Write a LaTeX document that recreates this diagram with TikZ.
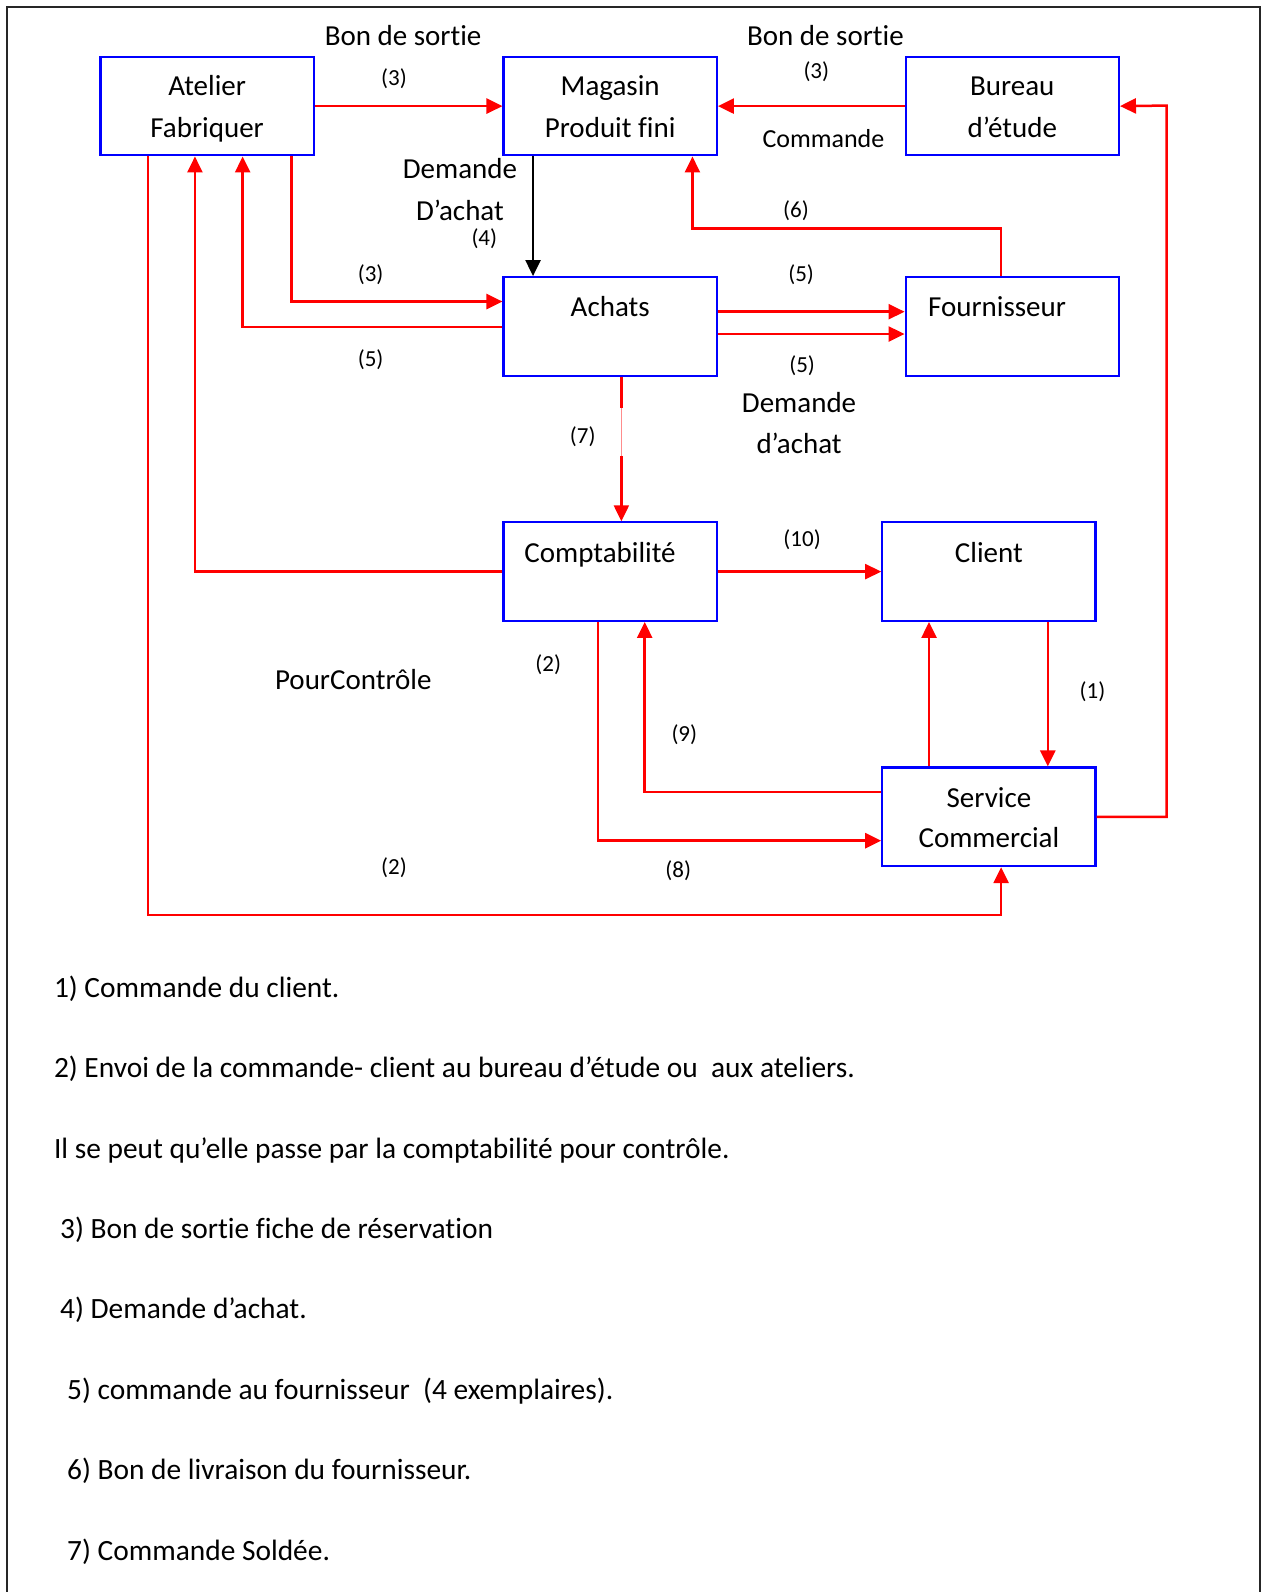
\documentclass[tikz,border=0pt]{standalone}
\usepackage{fontspec}
\setmainfont{Carlito}[Ligatures={NoCommon}]
\usetikzlibrary{arrows.meta}
\begin{document}
\begin{tikzpicture}[x=1.0152pt,y=-1.0152pt,
  box/.style={draw=blue,line width=2.2pt,minimum width=213.2pt,minimum height=98.5pt,inner sep=0pt},
  arr/.style={draw=red,line width=2.5pt,-{Triangle[length=16pt,width=15pt]}},
  blk/.style={draw=black,line width=2.5pt,-{Triangle[length=16pt,width=15pt]}},
  ln/.style={draw=red,line width=2.5pt},
  big/.style={font=\fontsize{29}{35}\selectfont,inner sep=0pt,anchor=base},
  mid/.style={font=\fontsize{26}{31}\selectfont,inner sep=0pt,anchor=base},
  num/.style={font=\fontsize{23}{28}\selectfont,inner sep=0pt,anchor=base},
  item/.style={font=\fontsize{29.4}{35}\selectfont,inner sep=0pt,anchor=base west}]
\useasboundingbox (0,0) rectangle (1249,1568);
\fill[white] (0,0) rectangle (1249,1568);
% frame
\draw[line width=1.6pt,black!85] (7,1570) -- (7,7) -- (1241,7) -- (1241,1570);
% boxes
\node[box] (atelier) at (204,104.5) {};
\node[box] (magasin) at (601,104.5) {};
\node[box] (bureau) at (997,104.5) {};
\node[box] (achats) at (601,321.5) {};
\node[box] (fourn) at (997,321.5) {};
\node[box] (compta) at (601,563) {};
\node[box] (client) at (974,563) {};
\node[box] (sc) at (974,804.5) {};
% box texts
\node[big] (ta1) at (204,94) {Atelier};
\node[big] (ta2) at (204,135) {Fabriquer};
\node[big] (tm1) at (601,94) {Magasin};
\node[big] (tm2) at (601,135) {Produit fini};
\node[big] (tb1) at (997,94) {Bureau};
\node[big] (tb2) at (997,135) {d’étude};
\node[big] (tac) at (601,312) {Achats};
\node[big] (tfo) at (982,312) {Fournisseur};
\node[big] (tco) at (591,554) {Comptabilité};
\node[big] (tcl) at (974,554) {Client};
\node[big] (ts1) at (974,795) {Service};
\node[big] (ts2) at (974,835) {Commercial};
% connectors
\draw[arr] (atelier.east) -- (magasin.west);
\draw[arr] (bureau.west) -- (magasin.east);
\draw[blk] (magasin.south -| 525,0) -- (achats.north -| 525,0);
\draw[arr] (atelier.south -| 287,0) |- (achats.west |- 0,297);
\draw[arr] (achats.west |- 0,322) -| (atelier.south -| 239,0);
\draw[arr] (compta.west) -| (atelier.south -| 192,0);
\draw[arr] (atelier.south -| 146,0) -- (146,901) -| (sc.south -| 986,0);
\draw[arr] (fourn.north -| 986,0) -- (986,225) -| (magasin.south -| 682,0);
\draw[arr] (achats.east |- 0,307) -- (fourn.west |- 0,307);
\draw[arr] (achats.east |- 0,329) -- (fourn.west |- 0,329);
\draw[ln] (achats.south -| 612,0) -- (612,402);
\draw[red!45,line width=0.7pt] (612,402) -- (612,449);
\draw[arr] (612,449) -- (compta.north -| 612,0);
\draw[arr] (compta.east) -- (client.west);
\draw[arr] (client.south -| 1032,0) -- (sc.north -| 1032,0);
\draw[arr] (sc.north -| 915,0) -- (client.south -| 915,0);
\draw[arr] (sc.west |- 0,780) -| (compta.south -| 635,0);
\draw[arr] (compta.south -| 589,0) |- (sc.west |- 0,828);
\draw[arr] (sc.east) -| (1149,104) -- (bureau.east);
% labels
\node[big] (l1) at (397,45) {Bon de sortie};
\node[num] (l2) at (388,84) {(3)};
\node[big] (l3) at (813,45) {Bon de sortie};
\node[num] (l4) at (804,77) {(3)};
\node[mid] (l5) at (811,145) {Commande};
\node[big] (l6) at (453,176) {Demande};
\node[big] (l7) at (453,217) {D’achat};
\node[num] (l8) at (477,242) {(4)};
\node[num] (l9) at (784,214) {(6)};
\node[num] (l10) at (365,277) {(3)};
\node[num] (l11) at (365,361) {(5)};
\node[num] (l12) at (789,277) {(5)};
\node[num] (l13) at (790,367) {(5)};
\node[big] (l14) at (787,406) {Demande};
\node[big] (l15) at (787,447) {d’achat};
\node[num] (l16) at (574,437) {(7)};
\node[num] (l17) at (790,538) {(10)};
\node[big] (l18) at (348,679) {PourContrôle};
\node[num] (l19) at (540,661) {(2)};
\node[num] (l20) at (1076,688) {(1)};
\node[num] (l21) at (674,730) {(9)};
\node[num] (l22) at (388,861) {(2)};
\node[num] (l23) at (668,864) {(8)};
% list
\node[item] (i1) at (53,982) {1) Commande du client.};
\node[item] (i2) at (53,1061) {2) Envoi de la commande- client au bureau d’étude ou\ \ aux ateliers.};
\node[item] (i3) at (53,1141) {Il se peut qu’elle passe par la comptabilité pour contrôle.};
\node[item] (i4) at (59,1220) {3) Bon de sortie fiche de réservation};
\node[item] (i5) at (59,1299) {4) Demande d’achat.};
\node[item] (i6) at (66,1378) {5) commande au fournisseur\ \ (4 exemplaires).};
\node[item] (i7) at (66,1457) {6) Bon de livraison du fournisseur.};
\node[item] (i8) at (66,1537) {7) Commande Soldée.};
\end{tikzpicture}
\end{document}
